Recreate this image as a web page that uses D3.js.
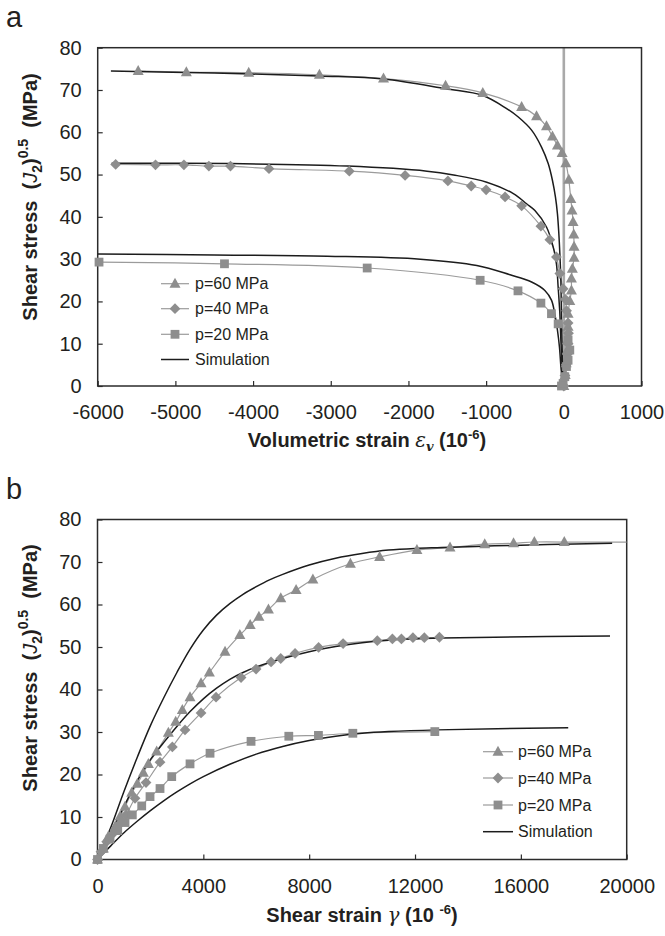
<!DOCTYPE html>
<html>
<head>
<meta charset="utf-8">
<script src="https://cdn.jsdelivr.net/npm/d3@7"></script>
<style>
  html, body { margin: 0; padding: 0; background: #fff; }
  svg { display: block; }
  text { font-family: "Liberation Sans", Arial, sans-serif; fill: #231f20; }
</style>
</head>
<body>
<svg id="chart" width="665" height="936"></svg>
<script>
// ---------------- DATA ----------------
const legendLabels = ["p=60 MPa", "p=40 MPa", "p=20 MPa", "Simulation"];

const xTicksA = [-6000, -5000, -4000, -3000, -2000, -1000, 0, 1000];
const yTicks = [0, 10, 20, 30, 40, 50, 60, 70, 80];
const xTicksB = [0, 4000, 8000, 12000, 16000, 20000];

// Panel a: [volumetric strain (1e-6), shear stress (MPa)]
const p60a = [[0,0],[18,2.6],[31,5.4],[45,8.5],[46,10.8],[55,14.0],[55,17.1],[77,20.1],[98,22.6],[98,25.4],[110,27.7],[132,30.3],[132,32.9],[128,35.8],[119,38.8],[106,41.5],[90,44.2],[64,48.8],[26,52.7],[-22,55.1],[-82,56.9],[-146,59.0],[-223,61.4],[-351,63.8],[-543,66.0],[-1043,69.3],[-1522,71.0],[-2321,72.7],[-3146,73.6],[-4056,74.1],[-4859,74.2],[-5479,74.5]];
const p40a = [[0,0],[15,2.5],[30,5.0],[45,7.5],[55,10.0],[60,12.5],[55,14.9],[35,17.8],[20,20.5],[-9,23.0],[-51,26.6],[-95,30.5],[-180,34.6],[-295,37.8],[-543,42.6],[-756,44.7],[-1000,46.4],[-1192,47.3],[-1492,48.5],[-2043,49.8],[-2761,50.8],[-3795,51.4],[-4291,52.0],[-4569,52.0],[-4890,52.3],[-5256,52.3],[-5769,52.4]];
const p20a = [[-30,0],[-9,0.6],[13,2.2],[34,4.6],[55,6.1],[77,8.5],[55,10.9],[-73,14.7],[-159,17.1],[-295,19.6],[-590,22.5],[-1077,25.0],[-2531,27.9],[-4368,28.9],[-5983,29.3]];

const sim60a = [[-5830,74.5],[-4500,74.0],[-3146,73.3],[-2321,72.6],[-1522,70.3],[-1043,68.7],[-736,65.6],[-586,63.6],[-415,60.5],[-287,56.5],[-201,52.6],[-146,48.6],[-108,44.7],[-82,40.7],[-64,36.0],[-51,31.3],[-38,25.0],[-31,17.1],[-22,9.2],[-12,3.0],[-5,0]];
const sim40a = [[-5821,52.7],[-4326,52.6],[-2787,52.0],[-1761,50.8],[-1419,49.9],[-992,48.2],[-650,45.5],[-479,43.1],[-372,41.5],[-223,37.6],[-137,32.9],[-95,28.9],[-73,23.4],[-51,17.1],[-38,10.8],[-22,4.5],[-5,0]];
const sim20a = [[-6000,31.2],[-4500,31.0],[-3043,30.7],[-1846,30.0],[-1120,28.5],[-692,26.3],[-415,24.6],[-244,22.6],[-159,20.3],[-117,17.1],[-82,13.2],[-56,9.2],[-35,4.0],[-18,1.5],[-5,0]];

// Panel b: [shear strain (1e-6), shear stress (MPa)]
const p60b = [[0,0],[221,2.6],[410,5.4],[662,7.7],[851,10.1],[1040,12.4],[1292,15.7],[1506,17.8],[1733,20.4],[1922,22.5],[2237,25.4],[2678,29.8],[2955,32.4],[3207,35.2],[3497,38.2],[3913,41.5],[4228,44.0],[4820,48.9],[5380,52.8],[5770,55.2],[6100,57.1],[6460,58.8],[6927,61.5],[7505,63.4],[8140,65.9],[9558,69.6],[10662,71.2],[12072,72.8],[13323,73.4],[14635,74.2],[15724,74.4],[16510,74.7],[17641,74.7]];
const p60bTail = [[17641,74.7],[20000,74.7]];
const p40b = [[0,0],[132,1.8],[347,4.2],[599,6.2],[851,8.5],[1077,10.5],[1418,14.4],[1834,18.1],[2363,22.9],[2829,26.5],[3308,30.5],[3913,34.5],[4480,38.2],[5425,42.8],[5993,44.8],[6560,46.5],[6925,47.3],[7467,48.5],[8356,49.9],[9282,50.8],[10575,51.5],[11145,51.9],[11486,51.9],[11921,52.2],[12352,52.2],[12922,52.3]];
const p20b = [[0,0],[221,2.6],[473,4.8],[764,6.8],[1040,8.7],[1316,10.5],[1671,12.6],[1985,14.8],[2363,16.7],[2805,19.5],[3497,22.5],[4253,25.0],[5803,27.8],[7230,29.0],[8350,29.2],[9650,29.7],[12748,30.1]];

const sim60b = [[0,0],[500,7.5],[1000,16.0],[1500,24.0],[2000,31.5],[2500,38.0],[3000,44.0],[3500,49.5],[4000,54.0],[4500,57.5],[5000,60.2],[5500,62.4],[6000,64.2],[6500,65.8],[7000,67.1],[8000,69.3],[9000,70.9],[10000,72.0],[11000,72.8],[12000,73.2],[13000,73.4],[15000,73.8],[17000,74.1],[19450,74.4]];
const sim40b = [[0,0],[500,6.3],[1000,12.5],[1500,18.5],[2000,23.5],[2500,27.5],[3000,31.3],[3500,34.8],[4000,37.8],[4500,40.3],[5000,42.4],[5500,44.0],[6000,45.3],[7000,47.3],[8000,48.9],[9000,50.1],[10000,51.0],[11000,51.6],[12000,51.9],[13000,52.1],[15000,52.3],[19370,52.6]];
const sim20b = [[0,0],[500,3.2],[1000,6.3],[1500,9.0],[2000,11.5],[2500,13.8],[3000,15.9],[3500,17.8],[4000,19.5],[5000,22.4],[6000,24.8],[7000,26.6],[8000,28.0],[9000,29.0],[10000,29.7],[11000,30.1],[12829,30.5],[17790,31.0]];

// ---------------- STYLE ----------------
const markerFill = "#8e8e8e";
const dataLine = "#9b9b9b";
const simColor = "#1c1c1c";
const frameColor = "#2b2b2b";
const NB = "\u00a0";

const svg = d3.select("#chart");

function symbolPath(type, cx, cy) {
  if (type === "tri") {
    const w = 5.5, h = 10;
    return `M${cx},${cy - h*0.6}L${cx + w},${cy + h*0.4}L${cx - w},${cy + h*0.4}Z`;
  } else if (type === "dia") {
    const r = 5.4;
    return `M${cx},${cy - r}L${cx + r},${cy}L${cx},${cy + r}L${cx - r},${cy}Z`;
  } else {
    const s = 4.4;
    return `M${cx - s},${cy - s}H${cx + s}V${cy + s}H${cx - s}Z`;
  }
}

function drawPanel(cfg) {
  const {left, right, top, bottom, xDomain, xTicks, series, sims, tails, zeroLine,
         legendX1, legendX2, legendTextX, legendYs, xTitle, yTitleY, xTitleX, xTitleY, label, labelY} = cfg;
  const x = d3.scaleLinear().domain(xDomain).range([left, right]);
  const y = d3.scaleLinear().domain([0, 80]).range([bottom, top]);
  const g = svg.append("g");

  const clipId = "clip" + label;
  svg.append("clipPath").attr("id", clipId).append("rect")
    .attr("x", left).attr("y", top).attr("width", right - left).attr("height", bottom - top);

  if (zeroLine) {
    g.append("line").attr("x1", x(0)).attr("x2", x(0)).attr("y1", top).attr("y2", bottom)
      .attr("stroke", "#a9a9a9").attr("stroke-width", 2.6);
  }

  const xAxis = d3.axisBottom(x).tickValues(xTicks).tickSizeInner(-5).tickSizeOuter(0).tickPadding(19)
    .tickFormat(d3.format("d"));
  const gx = g.append("g").attr("transform", `translate(0,${bottom})`).call(xAxis);
  const yAxis = d3.axisLeft(y).tickValues(yTicks).tickSizeInner(-5).tickSizeOuter(0).tickPadding(16)
    .tickFormat(d3.format("d"));
  const gy = g.append("g").attr("transform", `translate(${left},0)`).call(yAxis);
  [gx, gy].forEach(a => {
    a.select(".domain").remove();
    a.selectAll(".tick line").attr("stroke", frameColor).attr("stroke-width", 1.2);
    a.selectAll(".tick text").attr("font-size", 20).attr("fill", "#231f20")
      .style("font-family", "'Liberation Sans', Arial, sans-serif");
  });
  gx.selectAll(".tick text").text(d => d < 0 ? "-" + Math.abs(d) : d);

  g.append("rect").attr("x", left).attr("y", top).attr("width", right - left).attr("height", bottom - top)
    .attr("fill", "none").attr("stroke", frameColor).attr("stroke-width", 1.5);

  const plot = g.append("g").attr("clip-path", `url(#${clipId})`);
  const dline = d3.line().x(d => x(d[0])).y(d => y(d[1])).curve(d3.curveCatmullRom.alpha(0.5));

  series.forEach(s => {
    plot.append("path").attr("d", dline(s.data)).attr("fill", "none")
      .attr("stroke", dataLine).attr("stroke-width", 1.2);
  });
  (tails || []).forEach(t => {
    plot.append("path").attr("d", dline(t)).attr("fill", "none")
      .attr("stroke", dataLine).attr("stroke-width", 1.2);
  });
  sims.forEach(s => {
    plot.append("path").attr("d", dline(s)).attr("fill", "none")
      .attr("stroke", simColor).attr("stroke-width", 1.5);
  });
  series.forEach(s => {
    g.append("g").selectAll("path").data(s.data).join("path")
      .attr("d", d => symbolPath(s.type, x(d[0]), y(d[1])))
      .attr("fill", markerFill);
  });

  const types = ["tri", "dia", "sq", null];
  legendYs.forEach((ly, i) => {
    g.append("line").attr("x1", legendX1).attr("x2", legendX2).attr("y1", ly).attr("y2", ly)
      .attr("stroke", types[i] ? dataLine : simColor).attr("stroke-width", types[i] ? 1.2 : 1.5);
    if (types[i]) {
      g.append("path").attr("d", symbolPath(types[i], (legendX1 + legendX2) / 2, ly)).attr("fill", markerFill);
    }
    g.append("text").attr("x", legendTextX).attr("y", ly).attr("dy", "0.35em")
      .attr("font-size", 16).text(legendLabels[i]);
  });

  const yt = g.append("text").attr("transform", `translate(37,${yTitleY}) rotate(-90)`)
    .attr("text-anchor", "middle").attr("font-size", 20).attr("font-weight", "bold");
  yt.append("tspan").text("Shear stress" + NB + NB + "(");
  yt.append("tspan").attr("font-style", "italic").attr("font-weight", "normal").text("J");
  yt.append("tspan").attr("font-size", 14).attr("dy", 5).text("2");
  yt.append("tspan").attr("dy", -5).text(")");
  yt.append("tspan").attr("font-size", 14).attr("dy", -9).text("0.5");
  yt.append("tspan").attr("dy", 9).text(NB + NB + "(MPa)");

  const xt = g.append("text").attr("x", xTitleX).attr("y", xTitleY)
    .attr("text-anchor", "middle").attr("font-size", 20).attr("font-weight", "bold");
  xTitle(xt);

  svg.append("text").attr("x", 6).attr("y", labelY).attr("font-size", 29).text(label);
}

drawPanel({
  left: 97.7, right: 641.5, top: 47.7, bottom: 386,
  xDomain: [-6000, 1000], xTicks: xTicksA,
  series: [{data: p60a, type: "tri"}, {data: p40a, type: "dia"}, {data: p20a, type: "sq"}],
  sims: [sim60a, sim40a, sim20a],
  zeroLine: true,
  legendX1: 161, legendX2: 189, legendTextX: 195, legendYs: [283.7, 308.7, 334.3, 359.5],
  yTitleY: 197, xTitleX: 367, xTitleY: 447,
  xTitle: t => {
    t.append("tspan").text("Volumetric strain ");
    t.append("tspan").attr("font-style", "italic").attr("font-family", "'DejaVu Serif', serif").attr("font-weight", "normal").text("ε");
    t.append("tspan").attr("font-style", "italic").attr("font-family", "'DejaVu Serif', serif").attr("font-size", 13).attr("dy", 4).text("v");
    t.append("tspan").attr("dy", -4).text(" (10");
    t.append("tspan").attr("font-size", 13).attr("dy", -8).text("-6");
    t.append("tspan").attr("dy", 8).text(")");
  },
  label: "a", labelY: 27
});

drawPanel({
  left: 97.5, right: 626.7, top: 519.5, bottom: 859.5,
  xDomain: [0, 20000], xTicks: xTicksB,
  series: [{data: p60b, type: "tri"}, {data: p40b, type: "dia"}, {data: p20b, type: "sq"}],
  sims: [sim60b, sim40b, sim20b],
  tails: [p60bTail],
  zeroLine: false,
  legendX1: 483, legendX2: 513, legendTextX: 518, legendYs: [751.7, 778, 805, 831.7],
  yTitleY: 668, xTitleX: 362, xTitleY: 922,
  xTitle: t => {
    t.append("tspan").text("Shear strain ");
    t.append("tspan").attr("font-style", "italic").attr("font-family", "'DejaVu Serif', serif").attr("font-weight", "normal").text("γ");
    t.append("tspan").text(" (10 ");
    t.append("tspan").attr("font-size", 13).attr("dy", -8).text("-6");
    t.append("tspan").attr("dy", 8).text(")");
  },
  label: "b", labelY: 499
});
</script>
</body>
</html>
